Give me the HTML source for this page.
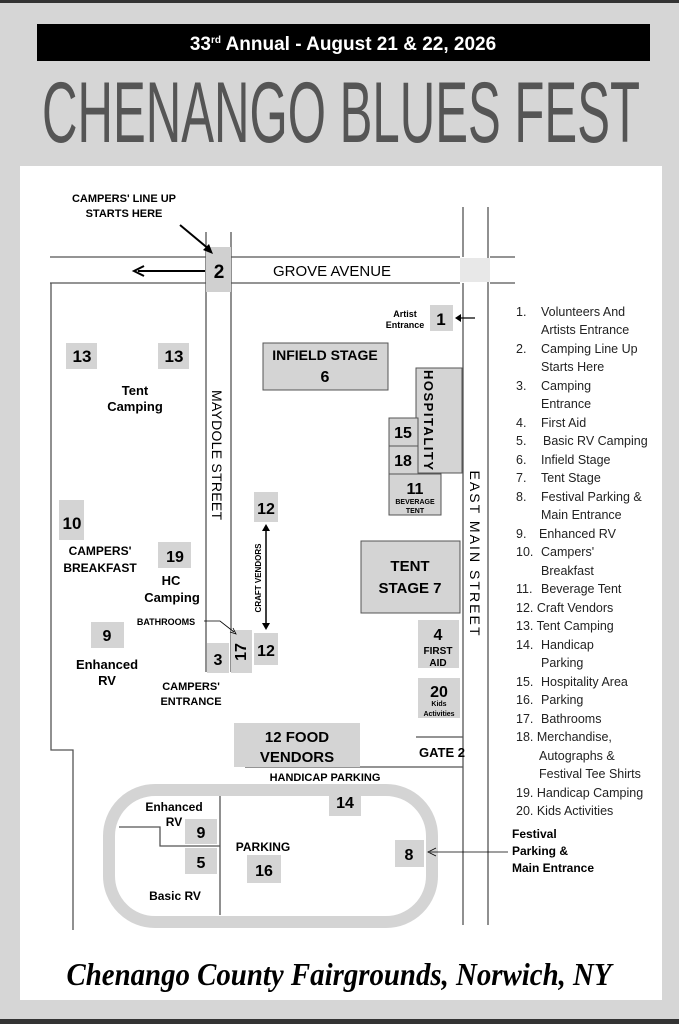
<!DOCTYPE html>
<html><head><style>
html,body{margin:0;padding:0;background:#d9d9d9;}
svg{display:block;font-family:"Liberation Sans",sans-serif;}
.b{font-weight:bold;}
</style></head><body>
<svg width="679" height="1024" viewBox="0 0 679 1024" xmlns="http://www.w3.org/2000/svg">
<rect x="0" y="0" width="679" height="1024" fill="#d6d6d6"/>
<rect x="0" y="0" width="679" height="3" fill="#333"/>
<rect x="0" y="1019" width="679" height="5" fill="#333"/>
<rect x="20" y="166" width="642" height="834" fill="#fff"/>
<rect x="37" y="24" width="613" height="37" fill="#000"/>
<text x="343" y="50" text-anchor="middle" fill="#fff" font-size="19" class="b">33<tspan font-size="10" dy="-7">rd</tspan><tspan dy="7"> Annual - August 21 &amp; 22, 2026</tspan></text>
<text x="42" y="142" textLength="598" lengthAdjust="spacingAndGlyphs" fill="#555" font-size="86" font-family="'Liberation Sans Narrow','Liberation Sans',sans-serif">CHENANGO BLUES FEST</text>

<g stroke="#555" stroke-width="1.3" fill="none">
<path d="M50 257H206M231 257H460M490 257H515"/>
<path d="M50 283H206M231 283H460M490 283H515"/>
<path d="M206 232V672M231 232V672"/>
<path d="M463 207V257M463 283V925M488 207V925"/>
<path d="M51 283V750H73V930"/>
<path d="M416 737H463M245 767H463"/>
<path d="M220 795V915M119 827H160V846H220"/>
</g>
<rect x="460" y="258" width="30" height="24" fill="#e8e8e8"/>
<rect x="206" y="247" width="25" height="45" fill="#d0d0d0"/>
<text x="219" y="278" text-anchor="middle" font-size="19" class="b">2</text>
<g stroke="#000" stroke-width="2" fill="none"><path d="M205 271H138"/><path d="M144 266L134 271L144 276"/><path d="M180 225L210 250"/></g>
<polygon points="213,254 203,250 209,244" fill="#000"/>
<text x="124" y="202" text-anchor="middle" font-size="11" class="b">CAMPERS' LINE UP</text>
<text x="124" y="217" text-anchor="middle" font-size="11" class="b">STARTS HERE</text>
<text x="332" y="276" text-anchor="middle" font-size="15">GROVE AVENUE</text>

<rect x="430" y="305" width="23" height="26" fill="#d4d4d4"/>
<text x="441" y="325" text-anchor="middle" font-size="17" class="b">1</text>
<text x="405" y="317" text-anchor="middle" font-size="9" class="b">Artist</text>
<text x="405" y="328" text-anchor="middle" font-size="9" class="b">Entrance</text>
<path d="M475 318H458" stroke="#000" stroke-width="1.2"/><polygon points="455,318 461,314 461,322" fill="#000"/>

<g fill="#d4d4d4">
<rect x="66" y="343" width="31" height="26"/><rect x="158" y="343" width="31" height="26"/>
<rect x="59" y="500" width="25" height="40"/><rect x="158" y="542" width="33" height="26"/>
<rect x="91" y="622" width="33" height="26"/>
<rect x="254" y="492" width="24" height="30"/><rect x="254" y="633" width="24" height="32"/>
<rect x="231" y="630" width="21" height="43"/><rect x="207" y="643" width="22" height="30"/>
<rect x="418" y="620" width="41" height="48"/><rect x="418" y="678" width="42" height="40"/>
<rect x="329" y="787" width="32" height="29"/><rect x="247" y="855" width="34" height="28"/>
<rect x="395" y="840" width="29" height="27"/>
<rect x="185" y="819" width="32" height="25"/><rect x="185" y="848" width="32" height="26"/>
<rect x="234" y="723" width="126" height="44"/>
</g>
<g fill="#d4d4d4" stroke="#555" stroke-width="1">
<rect x="263" y="343" width="125" height="47"/>
<rect x="416" y="368" width="46" height="105"/>
<rect x="389" y="418" width="29" height="28"/><rect x="389" y="446" width="29" height="28"/>
<rect x="389" y="474" width="52" height="41"/>
<rect x="361" y="541" width="99" height="72"/>
</g>
<rect x="109" y="790" width="323" height="132" rx="46" fill="none" stroke="#d4d4d4" stroke-width="12"/>

<g class="b" text-anchor="middle">
<text x="82" y="362" font-size="17">13</text><text x="174" y="362" font-size="17">13</text>
<text x="135" y="395" font-size="13">Tent</text><text x="135" y="411" font-size="13">Camping</text>
<text x="325" y="360" font-size="14">INFIELD STAGE</text><text x="325" y="382" font-size="16">6</text>
<text x="403" y="438" font-size="16">15</text><text x="403" y="466" font-size="16">18</text>
<text x="415" y="494" font-size="16">11</text><text x="415" y="504" font-size="7">BEVERAGE</text><text x="415" y="513" font-size="7">TENT</text>
<text x="72" y="529" font-size="17">10</text>
<text x="100" y="555" font-size="12">CAMPERS'</text><text x="100" y="572" font-size="12">BREAKFAST</text>
<text x="175" y="562" font-size="16">19</text>
<text x="171" y="585" font-size="13">HC</text><text x="172" y="602" font-size="13">Camping</text>
<text x="107" y="641" font-size="16">9</text>
<text x="107" y="669" font-size="13">Enhanced</text><text x="107" y="685" font-size="13">RV</text>
<text x="266" y="514" font-size="16">12</text><text x="266" y="656" font-size="16">12</text>
<text x="218" y="665" font-size="16">3</text>
<text x="166" y="625" font-size="9">BATHROOMS</text>
<text x="191" y="690" font-size="11">CAMPERS'</text><text x="191" y="705" font-size="11">ENTRANCE</text>
<text x="410" y="571" font-size="15">TENT</text><text x="410" y="593" font-size="15">STAGE 7</text>
<text x="438" y="640" font-size="16">4</text><text x="438" y="654" font-size="10">FIRST</text><text x="438" y="666" font-size="10">AID</text>
<text x="439" y="697" font-size="16">20</text><text x="439" y="706" font-size="7">Kids</text><text x="439" y="716" font-size="7">Activities</text>
<text x="297" y="742" font-size="15">12 FOOD</text><text x="297" y="762" font-size="15">VENDORS</text>
<text x="442" y="757" font-size="13">GATE 2</text>
<text x="325" y="781" font-size="11">HANDICAP PARKING</text>
<text x="345" y="808" font-size="16">14</text>
<text x="174" y="811" font-size="12">Enhanced</text><text x="174" y="826" font-size="12">RV</text>
<text x="201" y="838" font-size="16">9</text><text x="201" y="868" font-size="16">5</text>
<text x="263" y="851" font-size="12">PARKING</text><text x="264" y="876" font-size="16">16</text>
<text x="175" y="900" font-size="12">Basic RV</text>
<text x="409" y="860" font-size="16">8</text>
</g>
<text x="512" y="838" font-size="12" class="b">Festival</text>
<text x="512" y="855" font-size="12" class="b">Parking &amp;</text>
<text x="512" y="872" font-size="12" class="b">Main Entrance</text>
<path d="M508 852H430M436 848L428 852L436 856" stroke="#000" stroke-width="0.8" fill="none"/>
<path d="M204 621H220L234 632M230 632L236 634L233 628" stroke="#000" stroke-width="0.8" fill="none"/>
<path d="M266 529V625" stroke="#000" stroke-width="1.5"/>
<polygon points="266,524 262,531 270,531" fill="#000"/><polygon points="266,630 262,623 270,623" fill="#000"/>
<text transform="translate(261,578) rotate(-90)" text-anchor="middle" font-size="8" class="b">CRAFT VENDORS</text>
<text transform="translate(246,652) rotate(-90)" text-anchor="middle" font-size="16" class="b">17</text>
<text transform="translate(212,455) rotate(90)" text-anchor="middle" font-size="14" textLength="130">MAYDOLE STREET</text>
<text transform="translate(470,553) rotate(90)" text-anchor="middle" font-size="14" textLength="165">EAST MAIN STREET</text>
<text transform="translate(424,420) rotate(90)" text-anchor="middle" font-size="13" class="b" textLength="100">HOSPITALITY</text>

<g font-size="12.5" fill="#222">
<text x="516" y="316">1.<tspan x="541">Volunteers And</tspan></text>
<text x="541" y="334">Artists Entrance</text>
<text x="516" y="353">2.<tspan x="541">Camping Line Up</tspan></text>
<text x="541" y="371">Starts Here</text>
<text x="516" y="390">3.<tspan x="541">Camping</tspan></text>
<text x="541" y="408">Entrance</text>
<text x="516" y="427">4.<tspan x="541">First Aid</tspan></text>
<text x="516" y="445">5.<tspan x="543">Basic RV Camping</tspan></text>
<text x="516" y="464">6.<tspan x="541">Infield Stage</tspan></text>
<text x="516" y="482">7.<tspan x="541">Tent Stage</tspan></text>
<text x="516" y="501">8.<tspan x="541">Festival Parking &amp;</tspan></text>
<text x="541" y="519">Main Entrance</text>
<text x="516" y="538">9.<tspan x="539">Enhanced RV</tspan></text>
<text x="516" y="556">10.<tspan x="541">Campers'</tspan></text>
<text x="541" y="575">Breakfast</text>
<text x="516" y="593">11.<tspan x="541">Beverage Tent</tspan></text>
<text x="516" y="612">12. Craft Vendors</text>
<text x="516" y="630">13. Tent Camping</text>
<text x="516" y="649">14.<tspan x="541">Handicap</tspan></text>
<text x="541" y="667">Parking</text>
<text x="516" y="686">15.<tspan x="541">Hospitality Area</tspan></text>
<text x="516" y="704">16.<tspan x="541">Parking</tspan></text>
<text x="516" y="723">17.<tspan x="541">Bathrooms</tspan></text>
<text x="516" y="741">18. Merchandise,</text>
<text x="539" y="760">Autographs &amp;</text>
<text x="539" y="778">Festival Tee Shirts</text>
<text x="516" y="797">19. Handicap Camping</text>
<text x="516" y="815">20. Kids Activities</text>
</g>
<text x="339" y="985" text-anchor="middle" font-size="32" font-style="italic" font-weight="bold" font-family="'Liberation Serif',serif" textLength="545" lengthAdjust="spacingAndGlyphs">Chenango County Fairgrounds, Norwich, NY</text>
</svg>
</body></html>
